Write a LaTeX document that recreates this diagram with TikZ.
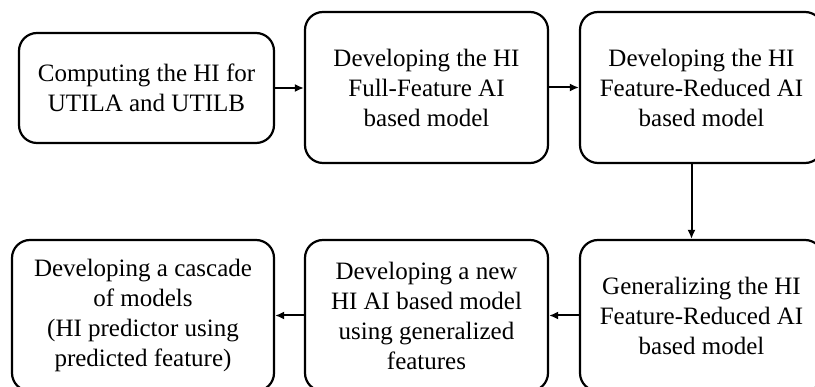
\documentclass[tikz,border=0pt]{standalone}
\usepackage{fontspec}
\setmainfont{Liberation Serif}
\usetikzlibrary{arrows.meta}
\begin{document}
\begin{tikzpicture}[x=1pt,y=-1pt,
  stepbox/.style={draw, line width=2.2pt, rounded corners=18pt, align=center,
    font=\fontsize{25}{30}\selectfont, inner sep=0pt},
  wide/.style={minimum width=243pt, minimum height=151pt},
  arr/.style={line width=2pt, -{Latex[length=9pt,width=8pt]}}]
\useasboundingbox (0,0) rectangle (815,387);
\clip (0,0) rectangle (815,387);
% top row
\node[stepbox, minimum width=255pt, minimum height=110pt] (b1) at (146.5,88)
  {Computing the HI for\\UTILA and UTILB};
\node[stepbox, wide] (b2) at (426.5,87.5)
  {Developing the HI\\Full-Feature AI\\based model};
\node[stepbox, wide] (b3) at (701.5,87.5)
  {Developing the HI\\Feature-Reduced AI\\based model};
% bottom row
\node[stepbox, wide] (b4) at (701.5,315.5)
  {Generalizing the HI\\Feature-Reduced AI\\based model};
\node[stepbox, wide] (b5) at (426.5,315.5)
  {Developing a new\\HI AI based model\\using generalized\\features};
\node[stepbox, minimum width=262pt, minimum height=151pt] (b6) at (143,315.5)
  {Developing a cascade\\of models\\(HI predictor using\\predicted feature)};
% connectors
\draw[arr] (b1.east) -- (b2.west |- b1.east);
\draw[arr] (b2.east) -- (b3.west);
\draw[arr] ([xshift=-10pt]b3.south) -- ([xshift=-10pt]b4.north);
\draw[arr] (b4.west) -- (b5.east);
\draw[arr] (b5.west) -- (b6.east);
\end{tikzpicture}
\end{document}
